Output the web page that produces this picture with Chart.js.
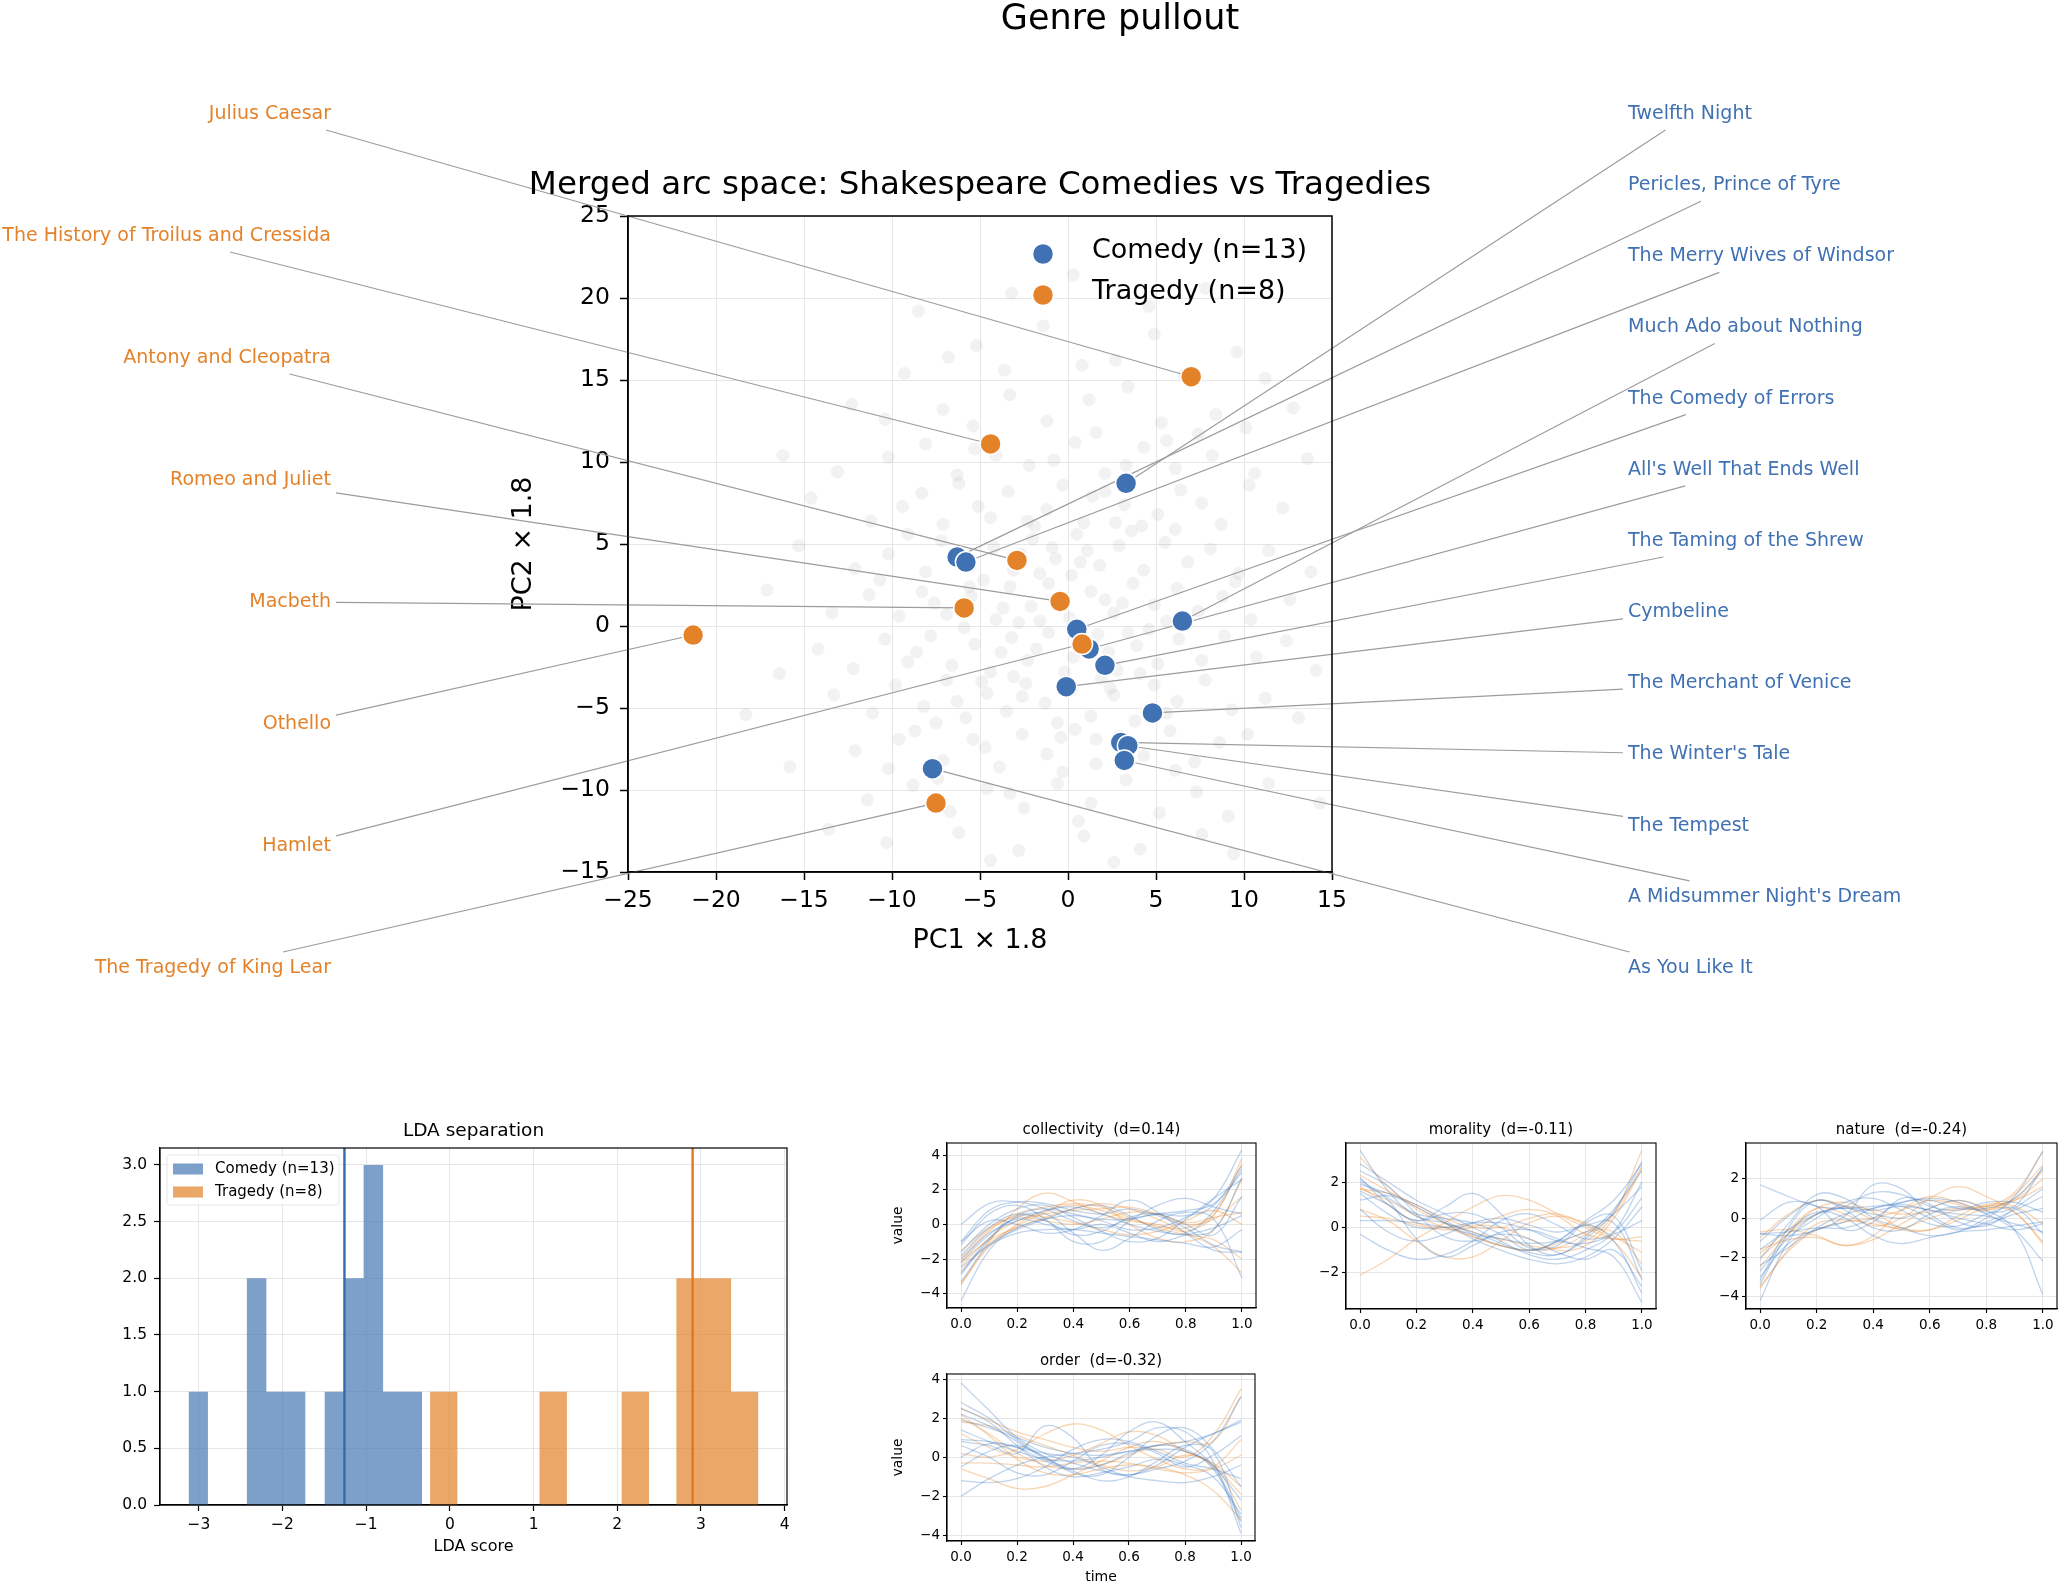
<!DOCTYPE html>
<html>
<head>
<meta charset="utf-8">
<script src="https://cdn.jsdelivr.net/npm/chart.js@4.4.1/dist/chart.umd.min.js"></script>
<style>
  html, body { margin: 0; padding: 0; background: #fff; }
  #fig { position: relative; width: 2062px; height: 1586px; overflow: hidden; background: #fff; }
  canvas { position: absolute; }
</style>
</head>
<body>
<div id="fig"></div>
<script>
// ---- data: merged arc space (PC1 x 1.8, PC2 x 1.8), sorted by PC2 ----
const comedyTitles = ['Twelfth Night', 'Pericles, Prince of Tyre', 'The Merry Wives of Windsor',
  'Much Ado about Nothing', 'The Comedy of Errors', "All's Well That Ends Well",
  'The Taming of the Shrew', 'Cymbeline', 'The Merchant of Venice', "The Winter's Tale",
  'The Tempest', "A Midsummer Night's Dream", 'As You Like It'];
const comedyPC1 = [3.3, -6.3, -5.8, 6.5, 0.5, 1.2, 2.1, -0.1, 4.8, 3.0, 3.4, 3.2, -7.7];
const comedyPC2 = [8.7, 4.2, 3.9, 0.3, -0.2, -1.4, -2.4, -3.7, -5.3, -7.1, -7.3, -8.2, -8.7];

const tragedyTitles = ['Julius Caesar', 'The History of Troilus and Cressida', 'Antony and Cleopatra',
  'Romeo and Juliet', 'Macbeth', 'Othello', 'Hamlet', 'The Tragedy of King Lear'];
const tragedyPC1 = [7.0, -4.4, -2.9, -0.45, -5.9, -21.3, 0.8, -7.5];
const tragedyPC2 = [15.2, 11.1, 4.0, 1.5, 1.1, -0.55, -1.1, -10.8];

const cloudPoints = [
  [-8.5,19.2],[0.3,21.4],[4.6,19.5],[-3.2,20.3],[7.8,20.6],
  [-9.3,15.4],[-5.2,17.1],[-1.4,18.3],[2.7,16.2],[6.6,15.3],[-6.8,16.4],[0.8,15.9],[4.9,17.8],[9.6,16.7],[-3.6,15.6],[11.2,15.1],
  [-7.1,13.2],[-3.3,14.1],[1.2,13.8],[5.3,12.4],[8.4,12.9],[-10.4,12.6],[-1.2,12.5],[3.4,14.6],[10.1,12.1],[-5.4,12.2],[-12.3,13.5],[12.8,13.3],
  [-10.2,10.3],[-6.3,9.2],[-4.1,10.4],[-2.2,9.8],[0.4,11.2],[2.1,9.3],[4.3,10.9],[6.1,9.6],[8.2,10.4],[-8.1,11.1],[-0.8,10.1],[1.6,11.8],[3.3,9.8],[5.6,11.3],[-13.1,9.4],[10.6,9.3],[-5.3,10.8],[7.4,11.7],
  [-11.2,6.4],[-8.3,8.1],[-7.1,6.2],[-5.1,7.3],[-3.4,8.2],[-1.2,7.1],[0.9,6.3],[3.2,7.4],[5.1,6.8],[6.4,8.3],[8.7,6.2],[-9.4,7.3],[-6.2,8.7],[-2.3,6.4],[-0.3,8.6],[2.1,8.2],[4.2,6.1],[7.6,7.5],[12.2,7.2],[-14.6,7.8],[10.3,8.6],[-4.4,6.6],[1.4,7.9],
  [-12.1,3.5],[-10.2,4.4],[-8.1,3.3],[-7.2,5.2],[-5.6,3.6],[-4.2,4.8],[-3.1,3.4],[-2.0,5.3],[-0.7,4.1],[0.5,5.6],[1.8,3.7],[2.9,4.9],[4.3,3.4],[5.5,5.1],[6.8,3.9],[8.1,4.7],[9.7,3.2],[-9.1,5.6],[-6.4,4.3],[-1.6,3.2],[0.2,3.1],[3.6,5.8],[6.1,5.9],[11.4,4.6],[-15.3,4.9],[-2.7,4.4],[1.1,4.6],
  [-13.4,0.8],[-11.3,1.9],[-9.6,0.6],[-8.3,2.1],[-6.9,0.7],[-5.5,1.8],[-4.1,0.4],[-3.3,2.4],[-2.1,1.2],[-1.1,2.6],[0.1,0.5],[1.3,2.1],[2.6,0.8],[3.7,2.6],[4.9,1.3],[6.2,2.3],[7.4,0.9],[8.8,1.8],[10.4,0.4],[12.6,1.6],[-7.6,1.4],[-4.8,2.8],[-0.4,1.7],[2.1,1.6],[5.6,0.3],[-10.7,2.8],[-2.8,0.2],[9.5,2.7],
  [-14.2,-1.4],[-12.2,-2.6],[-10.4,-0.8],[-9.1,-2.2],[-7.8,-0.6],[-6.6,-2.4],[-5.3,-1.1],[-4.4,-2.8],[-3.2,-0.7],[-2.3,-2.1],[-1.1,-0.4],[0.3,-1.9],[1.7,-0.5],[2.8,-2.7],[3.9,-1.2],[5.1,-2.3],[6.3,-0.8],[7.6,-2.1],[8.9,-0.6],[10.7,-1.9],[-8.6,-1.6],[-0.2,-2.8],[4.6,-0.2],[-5.9,-0.1],[12.4,-0.9],[-1.8,-1.4],[2.3,-1.6],
  [-13.3,-4.2],[-11.1,-5.3],[-9.8,-3.6],[-8.2,-4.9],[-6.9,-3.3],[-5.8,-5.6],[-4.6,-4.1],[-3.5,-5.2],[-2.4,-3.5],[-1.3,-4.7],[0.2,-3.9],[1.3,-5.5],[2.6,-4.2],[3.8,-5.8],[4.9,-3.6],[6.2,-4.6],[7.8,-3.3],[9.3,-5.1],[11.2,-4.4],[-7.5,-5.9],[-0.6,-5.9],[5.6,-5.3],[-3.1,-3.1],[1.9,-3.2],[13.1,-5.6],
  [-12.1,-7.6],[-10.2,-8.7],[-8.7,-6.4],[-7.1,-8.2],[-5.4,-6.9],[-3.9,-8.6],[-2.6,-6.6],[-1.2,-7.8],[0.4,-6.3],[1.6,-8.4],[2.9,-6.7],[4.3,-7.9],[5.8,-6.4],[7.2,-8.3],[8.6,-7.1],[10.2,-6.6],[-9.6,-6.9],[-0.3,-8.9],[6.1,-8.8],[-4.7,-7.4],
  [-11.4,-10.6],[-8.8,-9.7],[-6.7,-11.3],[-4.6,-9.9],[-2.5,-11.1],[-0.6,-9.6],[1.3,-10.8],[3.3,-9.4],[5.2,-11.4],[7.3,-10.1],[9.1,-11.6],[-7.4,-9.3],[0.6,-11.9],[-3.3,-10.2],[11.4,-9.6],
  [-10.3,-13.2],[-6.2,-12.6],[-2.8,-13.7],[0.9,-12.8],[4.1,-13.6],[7.6,-12.7],[-4.4,-14.3],[2.6,-14.4],[9.4,-13.9],[-13.6,-12.4],
  [-16.4,-2.9],[-15.8,-8.6],[-17.1,2.2],[-16.2,10.4],[-18.3,-5.4],[13.8,3.3],[14.1,-2.7],[13.6,10.2],[14.3,-10.8],
  [-3.8,-1.6],[-1.6,0.3],[0.8,-0.9],[2.4,-3.8],[-4.9,-3.4],[-0.9,4.8],[3.1,1.4],[-2.6,-4.3],[0.7,3.9],[-5.6,2.4],
  [4.1,-2.9],[1.6,-6.9],[-1.9,6.1],[-6.3,-4.6],[3.4,-0.4],[-0.4,-6.8],[-3.7,1.1],[2.7,6.3]];

// ---- LDA histogram ----
const comedyBinEdges = [-3.123, -2.891, -2.658, -2.426, -2.193, -1.961, -1.728, -1.496, -1.263, -1.031, -0.798, -0.566, -0.333];
const comedyBinCounts = [1, 0, 0, 2, 1, 1, 0, 1, 2, 3, 1, 1];
const tragedyBinEdges = [-0.237, 0.090, 0.417, 0.744, 1.071, 1.398, 1.725, 2.052, 2.379, 2.706, 3.033, 3.360, 3.687];
const tragedyBinCounts = [1, 0, 0, 0, 1, 0, 0, 1, 0, 2, 2, 1];
const comedyMeanLDA = -1.26;
const tragedyMeanLDA = 2.90;

// ---- arc curves per dimension ----
const arcTimes = [0, 0.1, 0.2, 0.3, 0.4, 0.5, 0.6, 0.7, 0.8, 0.9, 1.0];
const arcDims = ['collectivity', 'morality', 'nature', 'order'];
const arcEffect = [0.14, -0.11, -0.24, -0.32];

const collectivityComedy = [
  [-4.4,-1.5,-0.2,0.3,0.5,0.2,-0.3,-0.2,0.4,1.5,4.3],
  [-1.0,0.8,1.3,1.2,0.8,0.6,0.9,0.5,-0.2,-1.2,-1.6],
  [0.0,1.2,1.3,0.9,0.2,-0.2,0.3,0.6,0.8,1.2,3.0],
  [-2.0,-0.5,0.2,0.8,1.0,0.6,0.0,-0.4,-0.6,-0.3,2.7],
  [-2.8,-0.8,0.4,0.6,-0.5,-1.5,-0.8,0.2,0.7,0.3,-3.1],
  [-1.8,-0.2,0.6,0.2,-0.6,-0.4,0.4,0.6,0.0,-0.6,1.6],
  [-1.0,0.2,0.0,-0.5,-0.3,0.5,1.4,0.7,-0.5,-1.5,-1.6],
  [-3.3,-1.2,-0.3,0.3,0.9,1.1,0.5,-0.3,-0.5,0.8,3.2],
  [-2.2,-0.6,0.3,0.0,-0.3,0.0,-0.5,-1.0,-0.6,-0.2,0.5],
  [-1.6,0.0,0.9,1.1,0.4,-0.4,-1.0,-0.8,0.3,1.5,2.6],
  [-2.5,-1.2,-0.5,-0.3,-0.3,-0.5,-0.7,-0.9,-1.1,-1.3,-0.3],
  [-1.2,0.6,1.1,0.3,-1.0,-1.0,0.2,1.1,1.5,1.0,0.6],
  [-2.9,-0.9,0.5,0.9,0.6,0.3,0.3,0.6,0.5,1.1,3.4]];
const collectivityTragedy = [
  [-3.5,-1.0,0.9,1.8,1.3,0.6,0.2,0.0,-0.4,0.5,3.8],
  [-2.1,-0.4,0.6,1.0,1.2,1.0,0.4,-0.2,-0.6,-0.9,-2.0],
  [-2.4,-0.8,0.2,0.6,0.8,0.9,1.0,0.6,0.0,0.3,1.6],
  [-1.9,-0.3,0.5,0.4,0.1,-0.3,-0.6,-0.4,0.2,0.8,0.0],
  [-3.4,-1.3,0.0,0.8,1.1,0.8,0.3,-0.1,-0.2,0.6,3.5],
  [-2.2,-0.9,-0.2,0.4,0.9,1.2,0.9,0.3,-0.5,-1.3,-2.8],
  [-1.5,-0.2,0.4,0.2,0.0,0.3,0.7,0.6,0.1,0.4,0.7],
  [-2.7,-1.1,-0.1,0.7,1.4,1.1,0.0,-0.8,-1.0,-0.3,2.6]];

const moralityComedy = [
  [3.4,1.6,0.5,0.2,-0.2,-0.7,-1.1,-1.2,-0.5,0.7,2.9],
  [2.5,1.8,0.6,-0.4,-0.6,-0.3,-0.5,-1.1,-1.4,-1.0,-2.6],
  [1.6,1.0,0.3,0.9,1.5,0.6,-0.8,-1.2,-0.4,0.8,2.5],
  [0.3,0.3,0.2,0.0,-0.3,-0.5,-0.7,-0.6,-0.2,0.6,1.8],
  [2.0,1.2,-0.5,-1.3,-0.8,-0.2,-0.1,-0.5,-0.9,-1.3,-3.3],
  [-0.3,-1.0,-1.4,-1.2,-0.6,0.3,0.6,0.1,-0.5,-0.2,1.3],
  [1.2,1.4,0.9,0.2,-0.5,-1.0,-1.4,-1.6,-1.3,-0.5,0.9],
  [2.2,1.0,0.3,0.6,0.6,0.0,-0.9,-0.8,0.2,0.5,-1.9],
  [1.9,1.5,1.0,0.3,-0.3,-0.8,-1.0,-0.6,0.3,1.2,2.8],
  [0.8,-0.2,-0.6,-0.3,0.2,0.4,0.1,-0.2,0.1,0.2,-2.3],
  [2.8,2.0,1.2,0.6,0.0,-0.6,-1.2,-1.4,-1.0,-0.2,2.0],
  [1.5,0.6,0.0,0.0,0.2,0.2,-0.1,-0.6,-0.7,-0.3,0.3],
  [2.1,1.3,0.6,0.4,0.2,-0.3,-1.0,-0.6,0.1,-0.6,-2.9]];
const moralityTragedy = [
  [3.1,1.8,0.8,0.2,-0.2,-0.5,-0.8,-0.9,-0.6,0.6,3.4],
  [-2.1,-1.4,-0.5,0.2,0.9,1.4,1.2,0.6,0.0,-0.5,-0.4],
  [1.7,1.5,1.0,0.4,0.0,0.0,0.4,0.6,0.1,-0.6,-2.2],
  [0.8,0.3,-0.6,-1.3,-1.3,-0.6,0.2,0.5,0.2,-0.4,-1.1],
  [1.7,1.2,0.5,0.0,-0.4,-0.8,-1.0,-0.9,-0.3,0.6,2.7],
  [1.8,1.0,0.2,0.0,0.1,0.0,-0.5,-1.0,-0.8,0.4,2.6],
  [0.5,0.4,0.1,-0.1,0.0,0.5,0.8,0.5,-0.3,-0.5,-0.6],
  [2.3,1.6,0.9,0.2,-0.4,-0.8,-1.0,-0.7,-0.2,-0.2,-1.6]];

const natureComedy = [
  [1.7,1.1,0.6,0.5,0.6,0.7,0.4,0.2,0.1,-0.3,-0.7],
  [-0.1,0.8,0.6,-0.6,-0.2,1.0,0.7,-0.2,-0.4,0.5,1.5],
  [-4.2,-1.2,0.2,0.5,0.2,0.0,0.5,0.9,0.4,-0.6,-3.9],
  [-3.2,-0.5,0.9,0.4,-0.5,-0.6,0.2,0.6,0.3,0.6,2.6],
  [-2.1,-0.3,1.2,1.0,0.0,-0.5,-0.9,-0.7,0.0,1.1,3.4],
  [-0.8,-0.9,-0.6,0.1,1.7,1.5,0.2,-0.5,-0.3,0.2,0.5],
  [-2.4,-1.5,-0.5,0.2,0.5,0.8,1.0,0.8,0.2,-0.6,-2.2],
  [-1.6,-0.6,0.2,0.6,1.3,1.2,0.6,0.4,0.8,0.8,0.3],
  [-3.4,-0.8,0.3,0.0,-0.9,-1.3,-1.0,-0.7,-0.6,-0.4,-0.2],
  [-0.8,-0.7,-0.5,-0.5,0.0,0.8,0.9,0.5,0.5,1.0,2.5],
  [-2.7,-1.0,0.0,0.8,1.0,0.4,-0.3,-0.4,0.2,0.5,-0.8],
  [-1.2,0.1,0.9,0.6,0.4,0.6,0.4,0.0,-0.3,-0.6,-0.3],
  [-3.0,-1.3,-0.6,-0.2,0.5,0.6,0.0,-0.6,-0.2,0.4,1.1]];
const natureTragedy = [
  [-1.8,-0.6,0.5,0.2,-0.4,0.0,1.0,1.6,1.1,0.3,-1.2],
  [-0.7,-0.6,-0.9,-1.4,-0.9,0.4,1.1,0.8,0.4,0.9,2.0],
  [-3.6,-1.6,-0.3,-0.1,-0.3,-0.5,0.0,0.4,0.6,1.3,3.4],
  [-1.0,0.2,0.9,0.6,-0.1,-0.6,-0.6,0.1,0.7,0.6,-0.3],
  [-2.0,-0.8,0.2,0.6,0.4,0.2,0.3,0.5,0.6,0.9,1.6],
  [-1.6,-1.1,-1.0,-1.4,-1.1,-0.3,0.5,0.9,0.6,1.0,2.4],
  [-2.5,-0.8,0.5,0.8,0.3,-0.5,-0.6,-0.1,0.5,0.3,-1.3],
  [-3.5,-1.7,-0.6,-0.2,0.0,0.4,0.9,0.7,0.4,1.2,2.7]];

const orderComedy = [
  [3.8,2.4,1.0,0.2,-0.3,-0.7,-0.9,-0.6,-0.2,0.8,3.1],
  [2.8,2.0,0.9,0.0,-0.6,-0.4,0.2,0.6,0.4,-0.6,-3.3],
  [-2.0,-1.1,-0.4,0.0,0.2,0.4,0.8,1.5,1.3,-0.2,-3.9],
  [0.8,0.6,0.2,1.6,1.0,-0.6,-0.9,-0.4,0.5,1.2,1.8],
  [2.5,1.8,0.6,-0.5,-1.0,-0.8,-0.5,-0.1,-0.4,-1.0,-2.9],
  [-1.2,-1.3,-1.1,-0.5,0.4,0.9,0.8,0.3,-0.3,-0.6,-1.1],
  [0.0,0.7,0.5,-0.2,-0.6,0.1,1.3,1.8,0.8,-0.4,-2.2],
  [1.4,0.8,0.3,-0.1,-0.2,0.0,0.3,0.6,0.8,1.2,1.9],
  [2.2,1.6,0.8,-0.1,-0.7,-1.2,-1.0,-0.2,0.6,0.3,-3.6],
  [-0.5,0.3,0.6,0.0,-0.8,-0.9,0.0,1.1,1.5,0.4,-1.5],
  [0.9,0.8,0.5,0.2,0.0,-0.5,-1.0,-1.2,-1.3,-1.0,-0.4],
  [1.9,1.5,1.0,0.5,0.2,0.1,0.3,0.4,0.3,-0.5,-3.1],
  [0.6,0.0,-0.8,-0.9,-0.2,0.6,0.7,0.2,-0.5,0.1,1.1]];
const orderTragedy = [
  [2.5,1.9,1.3,0.9,0.5,0.3,0.5,0.4,0.0,1.1,3.5],
  [-0.6,-1.1,-1.6,-1.5,-0.9,-0.2,0.5,0.8,0.3,-0.3,-1.5],
  [1.8,1.6,1.1,0.6,0.1,-0.4,-0.7,-0.5,0.1,-0.4,-2.7],
  [0.2,0.0,0.4,1.2,1.7,1.4,0.6,-0.1,-0.6,-0.5,0.9],
  [2.0,1.2,0.2,-0.4,-0.6,-0.4,0.1,0.6,0.8,0.8,3.1],
  [1.2,0.5,0.0,-0.2,0.1,0.7,1.3,1.1,0.3,-0.4,-1.9],
  [-0.3,-0.3,-0.4,-0.5,-0.3,-0.2,-0.3,-0.6,-0.8,-0.6,0.1],
  [2.2,1.1,-0.1,-0.8,-0.9,-0.6,-0.4,-0.5,-0.9,-1.7,-3.2]];

// ---- styling ----
const comedyColor = '#4071b3';
const tragedyColor = '#e4822a';
const gridColor = '#e6e6e6';
const FONT = "'DejaVu Sans'";

Chart.defaults.font.family = FONT;
Chart.defaults.color = '#000';
Chart.defaults.animation = false;
Chart.defaults.responsive = false;
Chart.defaults.devicePixelRatio = 1;
Chart.defaults.plugins.legend.display = false;
Chart.defaults.plugins.tooltip.enabled = false;

const fig = document.getElementById('fig');
function makeCanvas(box) {
  const c = document.createElement('canvas');
  c.width = box.w; c.height = box.h;
  c.style.left = box.x + 'px'; c.style.top = box.y + 'px';
  c.style.width = box.w + 'px'; c.style.height = box.h + 'px';
  fig.appendChild(c);
  return c;
}
function padFor(box, area, yw, xh) {
  return { left: area.l - box.x - yw, top: area.t - box.y,
           right: box.x + box.w - area.r, bottom: box.y + box.h - area.b - xh };
}
function axisFit(size, horizontal) {
  return s => {
    if (horizontal) { s.height = size; s.paddingLeft = 0; s.paddingRight = 0; }
    else { s.width = size; s.paddingTop = 0; s.paddingBottom = 0; }
  };
}
const minus = v => String(v).replace('-', '\u2212');
function frame(ctx, a, w) {
  ctx.save();
  ctx.strokeStyle = '#000'; ctx.lineWidth = w;
  ctx.strokeRect(a.left, a.top, a.right - a.left, a.bottom - a.top);
  ctx.restore();
}
function axisStyle(tickLen, tickPad, size, width) {
  return {
    grid: { color: gridColor, lineWidth: 1, tickColor: '#000', tickLength: tickLen, tickWidth: width },
    border: { display: true, color: '#000', width: width },
    ticks: { autoSkip: false, maxRotation: 0, padding: tickPad, font: { size: size }, color: '#000' }
  };
}

// ================= main scatter + annotation labels =================
const labelTop = 114, labelBottom = 968, leftLabelX = 331, rightLabelX = 1628;
function labelY(i, n) { return labelTop + i * (labelBottom - labelTop) / (n - 1); }

const mainBox = { x: 0, y: 0, w: 2062, h: 1010 };
const mainArea = { l: 628, t: 216, r: 1332, b: 872 };
const mainYW = 120, mainXH = 85;

function labelSides() {
  return [
    { names: tragedyTitles, px: tragedyPC1, py: tragedyPC2, x: leftLabelX, align: 'right', color: tragedyColor },
    { names: comedyTitles, px: comedyPC1, py: comedyPC2, x: rightLabelX, align: 'left', color: comedyColor }
  ];
}

const mainDecor = {
  id: 'mainDecor',
  afterDatasetDraw(chart, args) {
    if (args.index !== 2) return;
    const ctx = chart.ctx, xs = chart.scales.x, ys = chart.scales.y;
    ctx.save();
    ctx.font = '19px ' + FONT;
    ctx.strokeStyle = '#9c9c9c';
    ctx.lineWidth = 1.2;
    labelSides().forEach(s => s.names.forEach((name, i) => {
      const cy = labelY(i, s.names.length);
      const w = ctx.measureText(name).width;
      const cx = s.align === 'right' ? s.x - w / 2 : s.x + w / 2;
      const tx = xs.getPixelForValue(s.px[i]), ty = ys.getPixelForValue(s.py[i]);
      const dx = tx - cx, dy = ty - cy;
      const t = Math.min((w / 2 + 5) / Math.max(Math.abs(dx), 1e-6), 16 / Math.max(Math.abs(dy), 1e-6));
      ctx.beginPath();
      ctx.moveTo(cx + t * dx, cy + t * dy);
      ctx.lineTo(tx, ty);
      ctx.stroke();
    }));
    ctx.restore();
  },
  afterDraw(chart) {
    const ctx = chart.ctx, a = chart.chartArea;
    frame(ctx, a, 1.5);
    ctx.save();
    ctx.fillStyle = '#000';
    ctx.textAlign = 'center';
    ctx.textBaseline = 'middle';
    ctx.font = '35px ' + FONT;
    ctx.fillText('Genre pullout', 1120, 20);
    ctx.font = '32.5px ' + FONT;
    ctx.fillText('Merged arc space: Shakespeare Comedies vs Tragedies', (a.left + a.right) / 2, a.top - 30);

    // labels
    ctx.font = '19px ' + FONT;
    labelSides().forEach(s => {
      ctx.textAlign = s.align;
      ctx.fillStyle = s.color;
      s.names.forEach((name, i) => ctx.fillText(name, s.x, labelY(i, s.names.length)));
    });

    // legend
    const items = [[comedyColor, `Comedy (n=${comedyTitles.length})`], [tragedyColor, `Tragedy (n=${tragedyTitles.length})`]];
    ctx.font = '27px ' + FONT;
    ctx.textAlign = 'left';
    items.forEach(([col, txt], k) => {
      const y = a.top + 38 + k * 41;
      ctx.beginPath();
      ctx.arc(a.left + 415, y, 10.5, 0, Math.PI * 2);
      ctx.fillStyle = col; ctx.fill();
      ctx.strokeStyle = '#fff'; ctx.lineWidth = 1.5; ctx.stroke();
      ctx.fillStyle = '#000';
      ctx.fillText(txt, a.left + 464, y - 3);
    });
    ctx.restore();
  }
};

const mainX = axisStyle(8, 7, 23.5, 1.5);
mainX.min = -25; mainX.max = 15;
mainX.ticks.stepSize = 5; mainX.ticks.callback = minus;
mainX.title = { display: true, text: 'PC1 \u00d7 1.8', font: { size: 27 }, padding: 0, color: '#000' };
mainX.afterFit = axisFit(mainXH, true);
const mainY = axisStyle(8, 10, 23.5, 1.5);
mainY.min = -15; mainY.max = 25;
mainY.ticks.stepSize = 5; mainY.ticks.callback = minus;
mainY.title = { display: true, text: 'PC2 \u00d7 1.8', font: { size: 27 }, padding: 0, color: '#000' };
mainY.afterFit = axisFit(mainYW, false);

new Chart(makeCanvas(mainBox), {
  type: 'scatter',
  data: {
    datasets: [
      { label: 'Tragedy', data: tragedyPC1.map((x, i) => ({ x, y: tragedyPC2[i] })),
        backgroundColor: tragedyColor, borderColor: '#fff', borderWidth: 1.5, pointRadius: 10.5, order: 0 },
      { label: 'Comedy', data: comedyPC1.map((x, i) => ({ x, y: comedyPC2[i] })),
        backgroundColor: comedyColor, borderColor: '#fff', borderWidth: 1.5, pointRadius: 10.5, order: 1 },
      { label: 'cloud', data: cloudPoints.map(([x, y]) => ({ x, y })),
        backgroundColor: 'rgba(140,140,140,0.11)', borderWidth: 0, pointRadius: 6.5, order: 2 }
    ]
  },
  options: {
    layout: { padding: padFor(mainBox, mainArea, mainYW, mainXH) },
    scales: { x: mainX, y: mainY }
  },
  plugins: [mainDecor]
});

// ================= LDA histogram =================
const histBox = { x: 60, y: 1110, w: 740, h: 476 };
const histArea = { l: 160, t: 1148, r: 787, b: 1505 };
const histYW = 70, histXH = 51;
const comedyFill = 'rgba(70,120,180,0.7)';
const tragedyFill = 'rgba(225,130,40,0.7)';

function stepData(edges, counts) {
  const pts = counts.map((c, k) => ({ x: edges[k], y: c }));
  pts.push({ x: edges[edges.length - 1], y: 0 });
  return pts;
}

const histDecor = {
  id: 'histDecor',
  afterDraw(chart) {
    const ctx = chart.ctx, a = chart.chartArea;
    frame(ctx, a, 1.2);
    ctx.save();
    ctx.fillStyle = '#000';
    ctx.textAlign = 'center'; ctx.textBaseline = 'middle';
    ctx.font = '18.5px ' + FONT;
    ctx.fillText('LDA separation', (a.left + a.right) / 2, a.top - 17);
    // legend
    ctx.fillStyle = 'rgba(255,255,255,0.8)';
    ctx.strokeStyle = '#e6e6e6'; ctx.lineWidth = 1;
    ctx.beginPath();
    ctx.roundRect(a.left + 7, a.top + 7, 172, 50, 3);
    ctx.fill(); ctx.stroke();
    const items = [[comedyFill, `Comedy (n=${comedyTitles.length})`], [tragedyFill, `Tragedy (n=${tragedyTitles.length})`]];
    ctx.font = '15px ' + FONT;
    ctx.textAlign = 'left';
    items.forEach(([col, txt], k) => {
      const y = a.top + 21 + k * 23;
      ctx.fillStyle = col;
      ctx.fillRect(a.left + 13, y - 5.5, 30, 11);
      ctx.fillStyle = '#000';
      ctx.fillText(txt, a.left + 55, y);
    });
    ctx.restore();
  }
};

const histX = axisStyle(6, 4.5, 15.5, 1.2);
histX.type = 'linear'; histX.min = -3.464; histX.max = 4.028;
histX.ticks.stepSize = 1; histX.ticks.includeBounds = false; histX.ticks.callback = minus;
histX.title = { display: true, text: 'LDA score', font: { size: 16 }, padding: 0, color: '#000' };
histX.afterFit = axisFit(histXH, true);
const histY = axisStyle(6, 7, 15.5, 1.2);
histY.min = 0; histY.max = 3.15;
histY.ticks.stepSize = 0.5; histY.ticks.includeBounds = false; histY.ticks.callback = v => v.toFixed(1);
histY.afterFit = axisFit(histYW, false);

new Chart(makeCanvas(histBox), {
  type: 'line',
  data: {
    datasets: [
      { data: [{ x: comedyMeanLDA, y: 0 }, { x: comedyMeanLDA, y: 3.15 }], borderColor: 'rgb(55,105,175)', borderWidth: 2.4, pointRadius: 0, fill: false },
      { data: [{ x: tragedyMeanLDA, y: 0 }, { x: tragedyMeanLDA, y: 3.15 }], borderColor: 'rgb(228,120,28)', borderWidth: 2.4, pointRadius: 0, fill: false },
      { data: stepData(comedyBinEdges, comedyBinCounts), stepped: true, fill: 'origin',
        backgroundColor: comedyFill, borderWidth: 0, borderColor: 'rgba(0,0,0,0)', pointRadius: 0 },
      { data: stepData(tragedyBinEdges, tragedyBinCounts), stepped: true, fill: 'origin',
        backgroundColor: tragedyFill, borderWidth: 0, borderColor: 'rgba(0,0,0,0)', pointRadius: 0 }
    ]
  },
  options: {
    layout: { padding: padFor(histBox, histArea, histYW, histXH) },
    scales: { x: histX, y: histY }
  },
  plugins: [histDecor]
});

// ================= arc small multiples =================
function arcPanel(box, area, idx, comedyRows, tragedyRows, yRange, showValue, showTime) {
  const yw = showValue ? 57 : 50;
  const xh = showTime ? 45 : 30;
  const toPts = row => row.map((v, i) => ({ x: arcTimes[i], y: v }));
  const sets = [];
  comedyRows.forEach(r => sets.push({ data: toPts(r), borderColor: 'rgba(60,120,195,0.32)', borderWidth: 1.3, pointRadius: 0, tension: 0.4, fill: false }));
  tragedyRows.forEach(r => sets.push({ data: toPts(r), borderColor: 'rgba(236,140,50,0.36)', borderWidth: 1.3, pointRadius: 0, tension: 0.4, fill: false }));
  const title = `${arcDims[idx]}  (d=${arcEffect[idx].toFixed(2)})`;

  const x = axisStyle(4, 4, 13.5, 1.1);
  x.type = 'linear'; x.min = -0.05; x.max = 1.05;
  x.ticks.stepSize = 0.2; x.ticks.includeBounds = false; x.ticks.callback = v => v.toFixed(1);
  x.title = { display: showTime, text: 'time', font: { size: 14 }, padding: 0, color: '#000' };
  x.afterFit = axisFit(xh, true);
  const y = axisStyle(4, 3, 13.5, 1.1);
  y.min = yRange[0]; y.max = yRange[1];
  y.ticks.stepSize = 2; y.ticks.includeBounds = false; y.ticks.callback = minus;
  y.title = { display: showValue, text: 'value', font: { size: 14 }, padding: 0, color: '#000' };
  y.afterFit = axisFit(yw, false);

  new Chart(makeCanvas(box), {
    type: 'line',
    data: { datasets: sets },
    options: {
      layout: { padding: padFor(box, area, yw, xh) },
      scales: { x, y }
    },
    plugins: [{
      id: 'panelDecor',
      afterDraw(chart) {
        const ctx = chart.ctx, a = chart.chartArea;
        frame(ctx, a, 1.1);
        ctx.save();
        ctx.fillStyle = '#000';
        ctx.textAlign = 'center'; ctx.textBaseline = 'middle';
        ctx.font = '15px ' + FONT;
        ctx.fillText(title, (a.left + a.right) / 2, a.top - 13);
        ctx.restore();
      }
    }]
  });
}

arcPanel({ x: 880, y: 1110, w: 405, h: 235 }, { l: 947, t: 1143, r: 1256, b: 1308 }, 0,
  collectivityComedy, collectivityTragedy, [-4.83, 4.70], true, false);
arcPanel({ x: 1285, y: 1110, w: 405, h: 235 }, { l: 1346, t: 1143, r: 1656, b: 1309 }, 1,
  moralityComedy, moralityTragedy, [-3.59, 3.72], false, false);
arcPanel({ x: 1690, y: 1110, w: 372, h: 235 }, { l: 1746, t: 1143, r: 2057, b: 1309 }, 2,
  natureComedy, natureTragedy, [-4.64, 3.83], false, false);
arcPanel({ x: 880, y: 1345, w: 405, h: 241 }, { l: 947, t: 1374, r: 1255, b: 1541 }, 3,
  orderComedy, orderTragedy, [-4.29, 4.26], true, true);
</script>
</body>
</html>
